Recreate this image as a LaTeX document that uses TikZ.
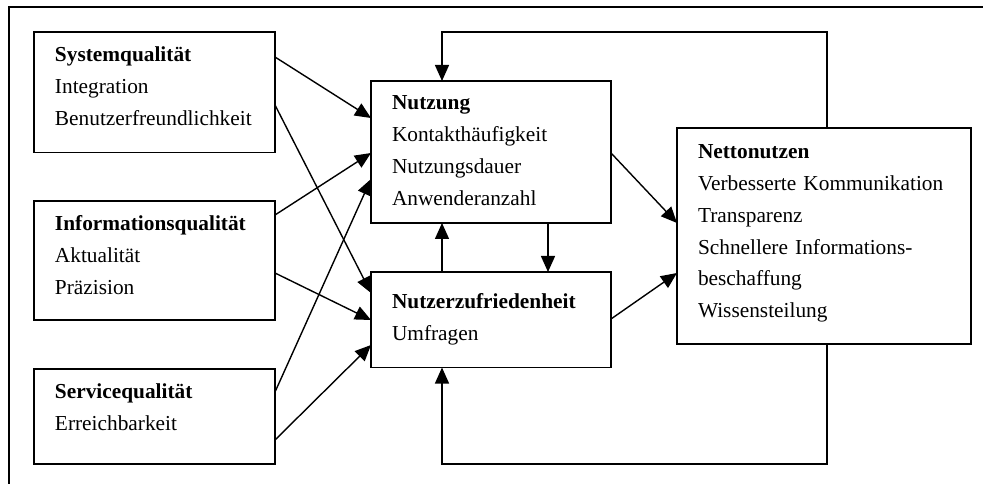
\documentclass[tikz,border=0pt]{standalone}
\usepackage{fontspec}
\setmainfont{Liberation Serif}
\usetikzlibrary{calc}
\usetikzlibrary{arrows.meta}

\tikzset{
	box/.style={draw, line width=1.1pt, anchor=north west, inner xsep=15.75pt, inner ysep=0pt,
		outer sep=0pt, align=left, font=\fontsize{16pt}{23.8pt}\selectfont},
	flow/.style={line width=1.05pt, -{Triangle[length=12pt,width=10.5pt]}}
}

\begin{document}
\begin{tikzpicture}[x=0.75pt,y=-0.75pt]
	% canvas in pixels, y pointing down
	\useasboundingbox (0,0) rectangle (983,484);
	% frame (cut at right and bottom)
	\draw[line width=1.5pt] (9,484) -- (9,7) -- (983,7);
	% quality dimensions
	\node[box, text width=149.25pt, text height=22.5pt, text depth=67.9pt] (sys) at (34,32)
		{\textbf{Systemqualität}\\Integration\\Benutzerfreundlichkeit};
	\node[box, text width=149.25pt, text height=22.5pt, text depth=66.75pt] (info) at (34,201)
		{\textbf{Informationsqualität}\\Aktualität\\Präzision};
	\node[box, text width=149.25pt, text height=22.5pt, text depth=48.75pt] (serv) at (34,369)
		{\textbf{Servicequalität}\\Erreichbarkeit};
	% use and satisfaction
	\node[box, text width=148.5pt, text height=21.75pt, text depth=84.75pt] (nutz) at (371,81)
		{\textbf{Nutzung}\\Kontakthäufigkeit\\Nutzungsdauer\\Anwenderanzahl};
	\node[box, text width=148.5pt, text height=27.75pt, text depth=43.9pt] (zuf) at (371,272)
		{\textbf{Nutzerzufriedenheit}\\Umfragen};
	% net benefit
	\node[box, text width=189pt, text height=23.25pt, text depth=138.75pt] (netto) at (677,128)
		{\textbf{Nettonutzen}\\Verbesserte Kommunikation\\Transparenz\\Schnellere Informations-\\beschaffung\\Wissensteilung};
	% quality -> use / satisfaction
	\draw[flow] ($(sys.north east)+(0,25)$) -- ($(nutz.north west)+(0,37)$);
	\draw[flow] ($(sys.north east)+(0,73)$) -- ($(zuf.north west)+(0,21)$);
	\draw[flow] ($(info.north east)+(0,14)$) -- ($(nutz.north west)+(0,72)$);
	\draw[flow] ($(info.north east)+(0,72)$) -- ($(zuf.north west)+(0,48)$);
	\draw[flow] ($(serv.north east)+(0,23)$) -- ($(nutz.north west)+(0,98)$);
	\draw[flow] ($(serv.north east)+(0,71)$) -- ($(zuf.north west)+(0,73)$);
	% use <-> satisfaction
	\draw[flow] ($(zuf.north west)+(71,0)$) -- ($(nutz.south west)+(71,0)$);
	\draw[flow] ($(nutz.south west)+(177,0)$) -- ($(zuf.north west)+(177,0)$);
	% -> net benefit
	\draw[flow] ($(nutz.north east)+(0,72)$) -- ($(netto.north west)+(0,95)$);
	\draw[flow] ($(zuf.north east)+(0,47)$) -- ($(netto.north west)+(0,145)$);
	% feedback loops
	\draw[flow] ($(netto.north west)+(150,0)$) -- ++(0,-96) -| ($(nutz.north west)+(71,0)$);
	\draw[flow] ($(netto.south west)+(150,0)$) -- ++(0,120) -| ($(zuf.south west)+(71,0)$);
\end{tikzpicture}
\end{document}
